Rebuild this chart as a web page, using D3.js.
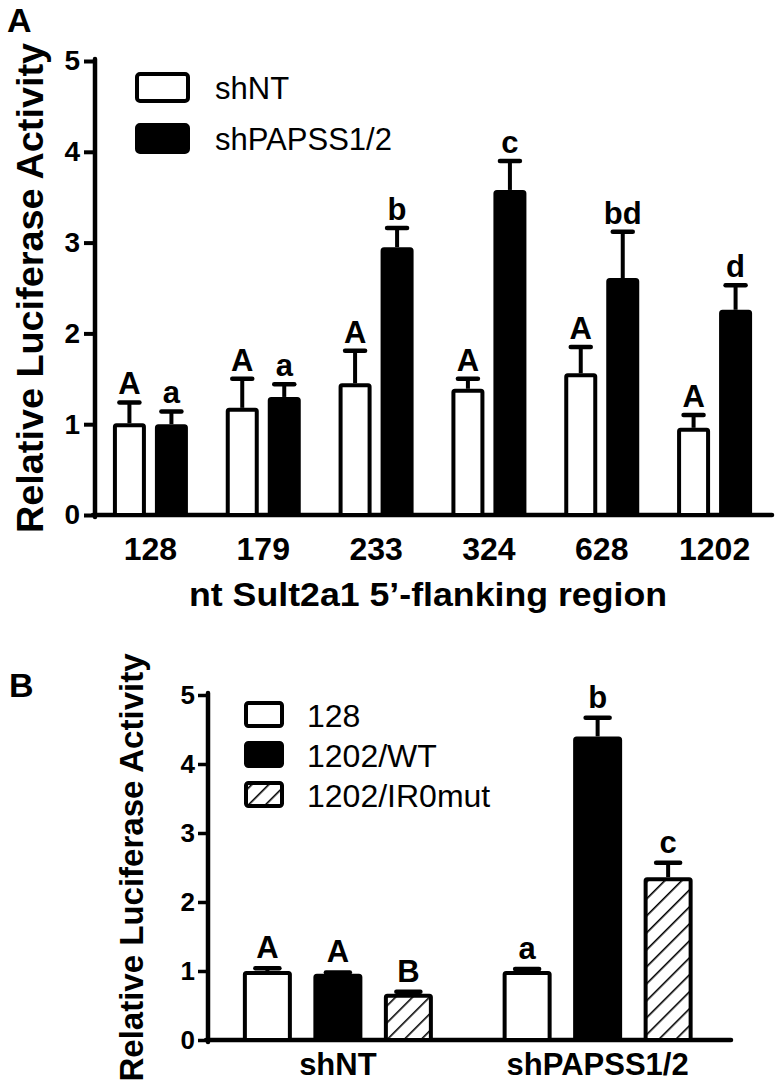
<!DOCTYPE html>
<html><head><meta charset="utf-8">
<script src="https://cdn.jsdelivr.net/npm/d3@7"></script>
<style>body{margin:0;background:#fff}svg{display:block}text{font-family:"Liberation Sans",Arial,sans-serif}</style>
</head><body>
<script>
// ---------- Panel A data ----------
const catsA = ["128","179","233","324","628","1202"];
const seriesA = ["shNT","shPAPSS1/2"];
const meanNT = [1.01,1.18,1.45,1.39,1.56,0.96];
const errNT  = [0.23,0.32,0.36,0.11,0.29,0.14];
const meanKD = [1.00,1.30,2.95,3.58,2.61,2.26];
const errKD  = [0.14,0.14,0.21,0.32,0.51,0.27];
const lettersNT = ["A","A","A","A","A","A"];
const lettersKD = ["a","a","b","c","bd","d"];
const yTicksA = [0,1,2,3,4,5];
// ---------- Panel B data ----------
const catsB = ["shNT","shPAPSS1/2"];
const seriesB = ["128","1202/WT","1202/IR0mut"];
const meanB = [[1.00,0.96,0.67],[1.00,4.40,2.36]];
const errB  = [[0.04,0.02,0.03],[0.03,0.27,0.21]];
const lettersB = [["A","A","B"],["a","b","c"]];
const yTicksB = [0,1,2,3,4,5];

const W=776,H=1083;
const svg=d3.select("body").append("svg").attr("width",W).attr("height",H);
const defs=svg.append("defs");
const pat=defs.append("pattern").attr("id","hatch").attr("patternUnits","userSpaceOnUse")
  .attr("width",12).attr("height",12).attr("patternTransform","rotate(45)");
pat.append("rect").attr("width",12).attr("height",12).attr("fill","#fff");
pat.append("line").attr("x1",0).attr("y1",0).attr("x2",0).attr("y2",12).attr("stroke","#000").attr("stroke-width",3.2);

const FONT='"Liberation Sans",Arial,sans-serif';
const fills=["#fff","#000","url(#hatch)"];

// ================= Panel A =================
const xA=d3.scaleBand().domain(catsA).range([94,771]);
const yA=d3.scaleLinear().domain([0,5]).range([515,61]);
const gA=svg.append("g");
gA.append("text").attr("x",7).attr("y",32).attr("font-size",34).attr("font-weight","bold").text("A");

// y axis
const axA=gA.append("g").attr("transform","translate(95,0)")
  .call(d3.axisLeft(yA).tickValues(yTicksA).tickFormat(d3.format("d")).tickSize(11).tickPadding(4));
axA.select(".domain").remove();
axA.selectAll(".tick line").attr("stroke","#000").attr("stroke-width",4);
axA.selectAll(".tick text").attr("font-size",28).attr("font-weight","bold").attr("font-family",FONT).attr("fill","#000");
gA.append("line").attr("x1",95).attr("x2",95).attr("y1",yA(5)-2).attr("y2",yA(0)+2).attr("stroke","#000").attr("stroke-width",4.5).attr("stroke-linecap","round");
gA.append("line").attr("x1",93).attr("x2",772).attr("y1",yA(0)).attr("y2",yA(0)).attr("stroke","#000").attr("stroke-width",4.5).attr("stroke-linecap","round");

// x labels
const axXA=gA.append("g").attr("transform",`translate(0,${yA(0)})`).call(d3.axisBottom(xA).tickSize(0).tickPadding(0));
axXA.select(".domain").remove();
axXA.selectAll(".tick text").attr("dy",null).attr("y",45).attr("font-size",32).attr("font-weight","bold").attr("font-family",FONT).attr("fill","#000");

gA.append("text").attr("x",428).attr("y",606).attr("text-anchor","middle").attr("font-size",34).attr("font-weight","bold")
  .attr("textLength",478).attr("lengthAdjust","spacingAndGlyphs").text("nt Sult2a1 5\u2019-flanking region");
gA.append("text").attr("transform",`translate(43,${(yA(0)+yA(5))/2}) rotate(-90)`).attr("text-anchor","middle")
  .attr("font-size",37).attr("font-weight","bold").attr("textLength",490).attr("lengthAdjust","spacingAndGlyphs").text("Relative Luciferase Activity");

// bars A
const bwA=33, gapA=9;
const barsA=[];
catsA.forEach((c,i)=>{
  const cx=xA(c)+xA.bandwidth()/2;
  barsA.push({x0:cx-gapA/2-bwA,m:meanNT[i],e:errNT[i],f:0,l:lettersNT[i]});
  barsA.push({x0:cx+gapA/2,m:meanKD[i],e:errKD[i],f:1,l:lettersKD[i]});
});
function drawBars(g,bars,y,bw,capHalf,letterSize,letterGap){
  bars.forEach(b=>{
    const cx=b.x0+bw/2;
    g.append("line").attr("x1",cx).attr("x2",cx).attr("y1",y(b.m)).attr("y2",y(b.m+b.e)).attr("stroke","#000").attr("stroke-width",4);
    g.append("line").attr("x1",cx-capHalf).attr("x2",cx+capHalf).attr("y1",y(b.m+b.e)).attr("y2",y(b.m+b.e)).attr("stroke","#000").attr("stroke-width",4.5).attr("stroke-linecap","round");
    g.append("text").attr("x",cx).attr("y",y(b.m+b.e)-letterGap).attr("text-anchor","middle").attr("font-size",letterSize).attr("font-weight","bold").text(b.l);
  });
  bars.forEach(b=>{
    g.append("rect").attr("x",b.x0+2).attr("y",y(b.m)+2).attr("width",bw-4).attr("height",y(0)-y(b.m)-2)
      .attr("fill",fills[b.f]).attr("stroke","#000").attr("stroke-width",4).attr("rx",1.5);
  });
}
drawBars(gA,barsA,yA,bwA,10,31,8);

// legend A
const legA=gA.append("g");
seriesA.forEach((s,i)=>{
  const y0=[72,123][i];
  legA.append("rect").attr("x",137).attr("y",y0+2).attr("width",51).attr("height",27).attr("rx",3)
    .attr("fill",fills[i]).attr("stroke","#000").attr("stroke-width",4);
  legA.append("text").attr("x",215).attr("y",y0+27).attr("font-size",31).text(s);
});

// ================= Panel B =================
const xB=d3.scaleBand().domain(catsB).range([208,727.5]);
const yB=d3.scaleLinear().domain([0,5]).range([1040,695]);
const gB=svg.append("g");
gB.append("text").attr("x",9).attr("y",697).attr("font-size",34).attr("font-weight","bold").text("B");

const axB=gB.append("g").attr("transform","translate(208,0)")
  .call(d3.axisLeft(yB).tickValues(yTicksB).tickFormat(d3.format("d")).tickSize(10).tickPadding(3));
axB.select(".domain").remove();
axB.selectAll(".tick line").attr("stroke","#000").attr("stroke-width",3.5);
axB.selectAll(".tick text").attr("font-size",26).attr("font-weight","bold").attr("font-family",FONT).attr("fill","#000");
gB.append("line").attr("x1",208).attr("x2",208).attr("y1",yB(5)-2).attr("y2",yB(0)+2).attr("stroke","#000").attr("stroke-width",4.5).attr("stroke-linecap","round");
gB.append("line").attr("x1",206).attr("x2",731).attr("y1",yB(0)).attr("y2",yB(0)).attr("stroke","#000").attr("stroke-width",4.5).attr("stroke-linecap","round");

const axXB=gB.append("g").attr("transform",`translate(0,${yB(0)})`).call(d3.axisBottom(xB).tickSize(0).tickPadding(0));
axXB.select(".domain").remove();
axXB.selectAll(".tick text").attr("dy",null).attr("y",35).attr("font-size",31).attr("font-weight","bold").attr("font-family",FONT).attr("fill","#000");

gB.append("text").attr("transform",`translate(143,${(yB(0)+yB(5))/2}) rotate(-90)`).attr("text-anchor","middle")
  .attr("font-size",34).attr("font-weight","bold").attr("textLength",428).attr("lengthAdjust","spacingAndGlyphs").text("Relative Luciferase Activity");

const bwB=49, stepB=70.5;
const barsB=[];
catsB.forEach((c,i)=>{
  const cx=xB(c)+xB.bandwidth()/2;
  seriesB.forEach((s,j)=>{
    barsB.push({x0:cx+(j-1)*stepB-bwB/2,m:meanB[i][j],e:errB[i][j],f:j,l:lettersB[i][j]});
  });
});
drawBars(gB,barsB,yB,bwB,12,31,10);

const legB=gB.append("g");
seriesB.forEach((s,i)=>{
  const y0=[701,741,781][i];
  legB.append("rect").attr("x",246).attr("y",y0+2).attr("width",36).attr("height",23).attr("rx",2.5)
    .attr("fill",fills[i]).attr("stroke","#000").attr("stroke-width",4);
  legB.append("text").attr("x",307).attr("y",y0+26).attr("font-size",32).text(s);
});
</script>
</body></html>
